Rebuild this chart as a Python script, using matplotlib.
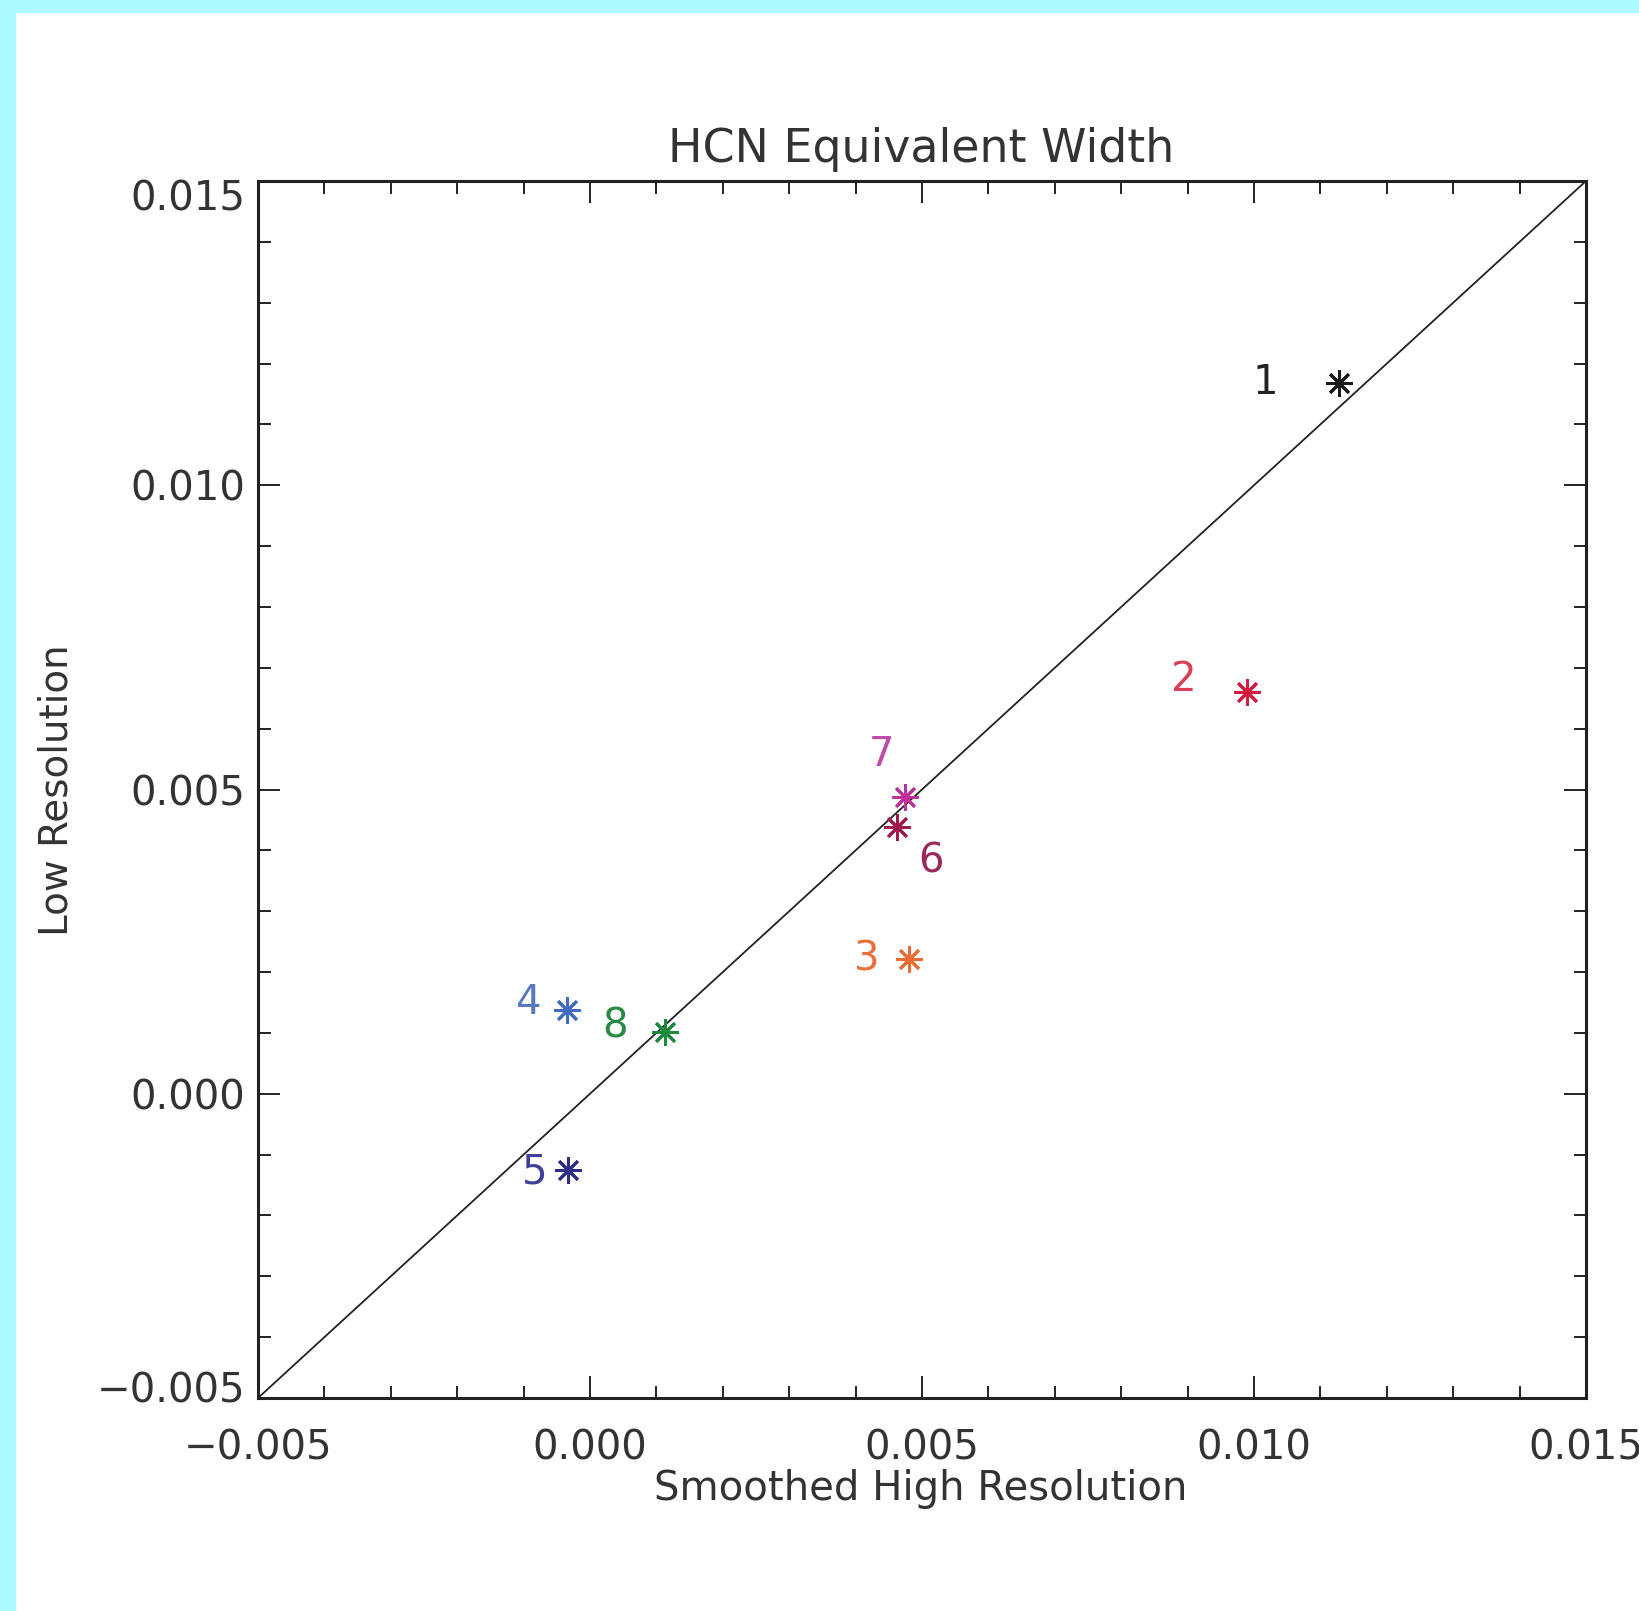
import matplotlib
matplotlib.use("Agg")
import matplotlib.pyplot as plt
from matplotlib.patches import Rectangle
from matplotlib.ticker import MultipleLocator, FuncFormatter
import matplotlib.transforms as mtransforms

# ---- data ----
point_ids = ["1", "2", "3", "4", "5", "6", "7", "8"]
smoothed_high = [0.01128, 0.00989, 0.00480, -0.00035, -0.00033, 0.00462, 0.00474, 0.00113]
low_res = [0.01168, 0.00660, 0.00221, 0.00138, -0.00125, 0.00438, 0.00488, 0.00101]
star_colors = ["#1a1a1a", "#d41c3c", "#ec6a34", "#3f6cc0", "#2e2e88", "#a0184e", "#c0309c", "#1c8a3c"]
label_colors = ["#222222", "#d84058", "#e8703c", "#5878c0", "#40409a", "#9a2a5a", "#c04aa8", "#2a8a44"]
label_offsets = [(-53, 0), (-45, 9), (-30, 0), (-27, 5), (-24, -2), (25, -24.5), (-17, 30), (-36, 4)]
axis_limits = [-0.005, 0.015]
title = "HCN Equivalent Width"
xlabel = "Smoothed High Resolution"
ylabel = "Low Resolution"

W, H = 1639, 1611
fig = plt.figure(figsize=(W / 100, H / 100), dpi=100)
fig.patch.set_facecolor("white")
# cyan border strips
fig.patches.append(Rectangle((0, 0), 15 / W, 1, transform=fig.transFigure, color="#adfbff", zorder=0))
fig.patches.append(Rectangle((0, 1 - 12 / H), 1, 12 / H, transform=fig.transFigure, color="#adfbff", zorder=0))

ax = fig.add_axes([258 / W, 1 - 1398 / H, (1586 - 258) / W, (1398 - 181) / H])
ax.set_xlim(axis_limits)
ax.set_ylim(axis_limits)

txtc = "#333333"
fs = 29

# one-to-one line
ax.plot(axis_limits, axis_limits, color="#222222", lw=1.3, zorder=2)

for pid, xv, yv, sc, lc, off in zip(point_ids, smoothed_high, low_res, star_colors, label_colors, label_offsets):
    ax.plot([xv], [yv], linestyle="none", marker=(8, 2, 0), markersize=19, markeredgewidth=2.0,
            color=sc, zorder=3)
    ax.annotate(pid, (xv, yv), xytext=off, textcoords="offset points", ha="center", va="center",
                color=lc, fontsize=fs, zorder=4)

ax.xaxis.set_major_locator(MultipleLocator(0.005))
ax.xaxis.set_minor_locator(MultipleLocator(0.001))
ax.yaxis.set_major_locator(MultipleLocator(0.005))
ax.yaxis.set_minor_locator(MultipleLocator(0.001))
fmt = FuncFormatter(lambda v, p: ("\u2212" if v < -1e-12 else "") + "%.3f" % abs(v))
ax.xaxis.set_major_formatter(fmt)
ax.yaxis.set_major_formatter(fmt)

ax.tick_params(which="both", direction="in", top=True, right=True, colors="#222222", labelcolor=txtc,
               labelsize=fs)
ax.tick_params(which="major", length=16, width=1.4)
ax.tick_params(which="minor", length=9, width=1.4)
ax.tick_params(axis="x", which="major", pad=22)
ax.tick_params(axis="y", which="major", pad=9)
for s in ax.spines.values():
    s.set_linewidth(2.2)
    s.set_color("#222222")

fig.text(921 / W, 1 - 162 / H, title, ha="center", va="baseline", fontsize=33, color=txtc)
fig.text(921 / W, 1 - 1500 / H, xlabel, ha="center", va="baseline", fontsize=fs, color=txtc)
fig.text(57 / W, 1 - 790 / H, ylabel, ha="center", va="center", rotation=90, fontsize=28, color=txtc)

# nudge the end y tick labels inward as in the reference
fig.canvas.draw()
yticks = ax.yaxis.get_major_ticks()
locs = ax.yaxis.get_majorticklocs()
for t, loc in zip(yticks, locs):
    if abs(loc - axis_limits[1]) < 1e-9:
        t.label1.set_transform(t.label1.get_transform() +
                               mtransforms.ScaledTranslation(0, -0.14, fig.dpi_scale_trans))
    elif abs(loc - axis_limits[0]) < 1e-9:
        t.label1.set_transform(t.label1.get_transform() +
                               mtransforms.ScaledTranslation(0, 0.11, fig.dpi_scale_trans))

fig.savefig("out.png", dpi=100, facecolor=fig.get_facecolor())
